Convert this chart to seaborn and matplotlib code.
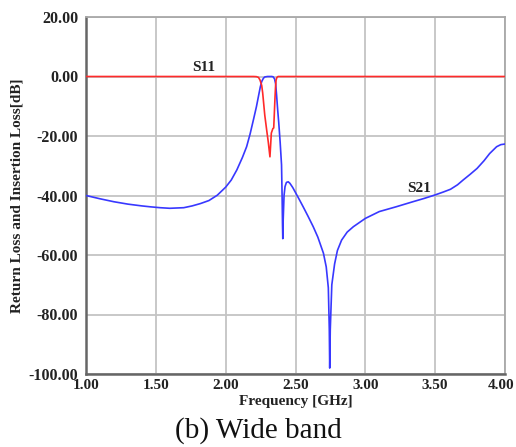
import matplotlib
matplotlib.use("Agg")
import matplotlib.pyplot as plt
import matplotlib.transforms as mtransforms
import seaborn as sns
import pandas as pd
from matplotlib.ticker import MultipleLocator, FormatStrFormatter

# ---- data ----
s21_freq = [1.00, 1.10, 1.20, 1.30, 1.40, 1.46, 1.53, 1.60, 1.70, 1.76,
            1.82, 1.88, 1.94, 2.00, 2.04, 2.08, 2.12, 2.15, 2.175, 2.20,
            2.22, 2.235, 2.248, 2.258, 2.27, 2.28, 2.30, 2.33, 2.34, 2.35,
            2.358, 2.365, 2.372, 2.38, 2.39, 2.40, 2.404, 2.407, 2.409, 2.412,
            2.418, 2.425, 2.435, 2.448, 2.46, 2.48, 2.50, 2.53, 2.556, 2.59,
            2.627, 2.66, 2.70, 2.72, 2.735, 2.742, 2.745, 2.749, 2.76, 2.78,
            2.80, 2.83, 2.87, 2.914, 3.00, 3.10, 3.22, 3.34, 3.42, 3.50,
            3.56, 3.61, 3.66, 3.70, 3.75, 3.80, 3.85, 3.89, 3.94, 3.97,
            4.00]
s21_db = [-40.0, -41.1, -42.1, -42.9, -43.5, -43.8, -44.1, -44.3, -44.1, -43.5,
          -42.7, -41.7, -39.9, -37.2, -34.8, -31.4, -27.2, -23.6, -19.3, -14.3,
          -10.2, -6.6, -3.5, -1.7, -0.6, -0.15, 0.0, 0.0, -0.1, -0.8,
          -2.5, -6.5, -11.0, -15.5, -22.0, -29.7, -40.0, -50.0, -54.5, -48.0,
          -40.0, -37.0, -35.6, -35.4, -35.9, -37.3, -39.0, -41.6, -43.9, -47.0,
          -50.5, -54.0, -59.4, -64.0, -71.0, -85.0, -98.0, -85.0, -70.0, -63.0,
          -58.5, -55.0, -52.3, -50.5, -47.7, -45.4, -43.8, -42.1, -41.0, -39.8,
          -38.8, -37.9, -36.4, -34.8, -32.9, -30.9, -28.3, -25.9, -23.6, -22.9,
          -22.7]

s11_freq = [1.00, 1.50, 2.00, 2.20, 2.22, 2.235, 2.246, 2.258, 2.265, 2.28,
            2.295, 2.305, 2.317, 2.322, 2.327, 2.333, 2.338, 2.344, 2.348, 2.353,
            2.357, 2.361, 2.367, 2.375, 2.50, 3.00, 3.50, 4.00]
s11_db = [0.0, 0.0, 0.0, 0.0, -0.05, -0.3, -1.2, -3.0, -5.5, -13.0,
          -18.5, -22.0, -27.0, -23.0, -19.0, -18.2, -17.5, -17.3, -13.0, -7.3,
          -3.5, -1.2, -0.3, 0.0, 0.0, 0.0, 0.0, 0.0]

x_ticks = [1.00, 1.50, 2.00, 2.50, 3.00, 3.50, 4.00]
y_ticks = [20, 0, -20, -40, -60, -80, -100]

s21 = pd.DataFrame({"freq": s21_freq, "db": s21_db})
s11 = pd.DataFrame({"freq": s11_freq, "db": s11_db})

sns.set_style("white")
plt.rcParams["font.family"] = ["Liberation Serif", "DejaVu Serif"]

W, H = 516, 447
fig = plt.figure(figsize=(W / 100, H / 100), dpi=100)
L, R, T, B = 86, 505, 17, 374
ax = fig.add_axes([L / W, 1 - B / H, (R - L) / W, (B - T) / H])

ax.grid(True, which="major", color="#c4c4c4", linewidth=1.3, zorder=0)
sns.lineplot(data=s21, x="freq", y="db", ax=ax, color="#3838ff",
             linewidth=1.2, estimator=None, sort=False, zorder=3)
sns.lineplot(data=s11, x="freq", y="db", ax=ax, color="#ff2a2a",
             linewidth=1.2, estimator=None, sort=False, zorder=4)

ax.set_xlim(1.0, 4.0)
ax.set_ylim(-100, 20)
ax.set_xticks(x_ticks)
ax.set_yticks(y_ticks)
ax.xaxis.set_minor_locator(MultipleLocator(0.1))
ax.yaxis.set_minor_locator(MultipleLocator(4))
ax.xaxis.set_major_formatter(FormatStrFormatter("%.2f"))
ax.yaxis.set_major_formatter(FormatStrFormatter("%.2f"))

ax.tick_params(axis="both", which="both", direction="out", colors="#555555",
               labelcolor="#222222")
ax.tick_params(axis="y", which="major", length=3.5, width=1, pad=2.0,
               labelsize=11.5)
ax.tick_params(axis="y", which="minor", length=2.5, width=0.8)
ax.tick_params(axis="x", which="major", length=3, width=1, pad=0.3,
               labelsize=11)
ax.tick_params(axis="x", which="minor", length=2.2, width=0.8)
for lab in ax.get_xticklabels() + ax.get_yticklabels():
    lab.set_fontweight("bold")

# keep the last x tick label inside the canvas
last = ax.get_xticklabels()[-1]
last.set_transform(last.get_transform() +
                   mtransforms.ScaledTranslation(-4 / 100, 0, fig.dpi_scale_trans))

for side in ["left", "bottom"]:
    ax.spines[side].set_color("#666666")
    ax.spines[side].set_linewidth(1.8)
for side in ["top", "right"]:
    ax.spines[side].set_color("#a8a8a8")
    ax.spines[side].set_linewidth(1.3)

ax.set_xlabel("Frequency [GHz]", fontsize=11, fontweight="bold",
              color="#222222", va="center")
ax.xaxis.set_label_coords(0.5, (B - 401) / (B - T))
ax.set_ylabel("Return Loss and Insertion Loss[dB]", fontsize=11,
              fontweight="bold", color="#222222", va="center")
ax.yaxis.set_label_coords((17 - L) / (R - L), 0.5)

ax.text(1.84, 3.0, "S11", fontsize=11, fontweight="bold", color="#222222",
        ha="center", va="center", zorder=5)
ax.text(3.385, -37.5, "S21", fontsize=11, fontweight="bold", color="#222222",
        ha="center", va="center", zorder=5)

fig.text(0.5, 1 - 431 / H, "(b) Wide band", fontsize=21, color="#111111",
         ha="center", va="center")

fig.savefig("out.png", dpi=100)
